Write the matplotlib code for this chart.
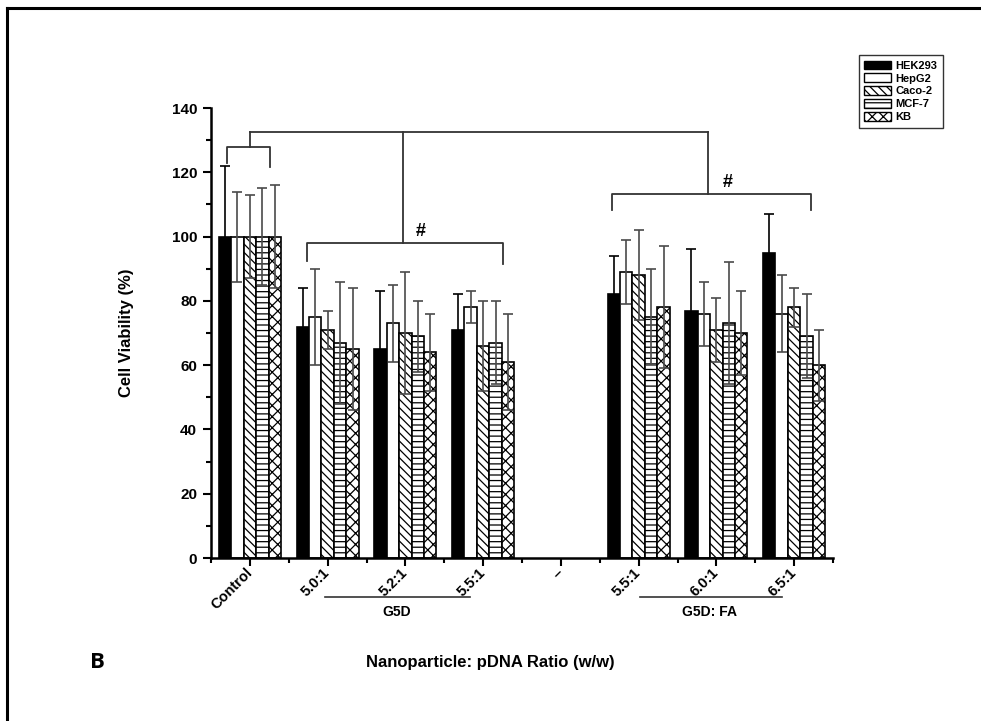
import matplotlib
matplotlib.use('Agg')
import matplotlib.pyplot as plt
import numpy as np
from matplotlib.lines import Line2D
from matplotlib.patches import Patch

plt.rcParams['font.family'] = ['Liberation Sans', 'DejaVu Sans']
plt.rcParams['font.weight'] = 'bold'
plt.rcParams['hatch.linewidth'] = 0.9

# ---------------- data ----------------
categories = ['Control', '5.0:1', '5.2:1', '5.5:1', '–', '5.5:1', '6.0:1', '6.5:1']
cell_lines = ['HEK293', 'HepG2', 'Caco-2', 'MCF-7', 'KB']

hek293 = [100, 72, 65, 71, np.nan, 82, 77, 95]
hepg2 = [100, 75, 73, 78, np.nan, 89, 76, 76]
caco2 = [100, 71, 70, 66, np.nan, 88, 71, 78]
mcf7 = [100, 67, 69, 67, np.nan, 75, 73, 69]
kb = [100, 65, 64, 61, np.nan, 78, 70, 60]

hek293_sd = [22, 12, 18, 11, np.nan, 12, 19, 12]
hepg2_sd = [14, 15, 12, 5, np.nan, 10, 10, 12]
caco2_sd = [13, 6, 19, 14, np.nan, 14, 10, 6]
mcf7_sd = [15, 19, 11, 13, np.nan, 15, 19, 13]
kb_sd = [16, 19, 12, 15, np.nan, 19, 13, 11]

means = [hek293, hepg2, caco2, mcf7, kb]
sds = [hek293_sd, hepg2_sd, caco2_sd, mcf7_sd, kb_sd]

# ---------------- styles ----------------
facecolors = ['black', 'white', 'white', 'white', 'white']
hatches = [None, None, '\\\\\\\\', '---', 'xxx']

fig = plt.figure(figsize=(9.81, 7.21), dpi=100)
ax = fig.add_axes([211/981, 1-558/721, (833-211)/981, (558-108)/721])

bw = 0.16
xc = np.arange(len(categories))
for j in range(5):
    m = np.array(means[j], dtype=float)
    s = np.array(sds[j], dtype=float)
    ok = ~np.isnan(m)
    xs = xc[ok] + (j - 2) * bw
    ax.bar(xs, m[ok], width=bw, color=facecolors[j], edgecolor='black',
           linewidth=1.2, hatch=hatches[j], zorder=2, label=cell_lines[j])
    ax.errorbar(xs, m[ok], yerr=s[ok], fmt='none',
                ecolor='black' if j == 0 else '#4a4a4a',
                elinewidth=1.2, capsize=3.5, capthick=1.2, zorder=3)

ax.set_xlim(-0.5, 7.5)
ax.set_ylim(0, 140)
ax.set_yticks(np.arange(0, 141, 20))
ax.set_yticks(np.arange(0, 141, 10), minor=True)
ax.set_xticks(xc)
ax.set_xticks(np.arange(-0.5, 8, 1), minor=True)
ax.set_xticklabels(categories, rotation=45, ha='right', va='center',
                   rotation_mode='anchor', fontsize=10.5, fontweight='bold')
for lbl in ax.get_yticklabels():
    lbl.set_fontsize(11)
    lbl.set_fontweight('bold')
ax.tick_params(axis='both', which='major', direction='out', length=6, width=1.5, pad=4)
ax.tick_params(axis='both', which='minor', direction='out', length=3.5, width=1.5)
ax.tick_params(axis='x', which='major', pad=3)
for sp in ['top', 'right']:
    ax.spines[sp].set_visible(False)
for sp in ['left', 'bottom']:
    ax.spines[sp].set_linewidth(1.8)

ax.set_ylabel('Cell Viability (%)', fontsize=12, fontweight='bold', labelpad=27)

# ---------------- significance brackets ----------------
bc = '#333333'
blw = 1.3
def seg(xs, ys):
    ax.plot(xs, ys, color=bc, lw=blw, clip_on=False, zorder=4)

top_y = 132.6
seg([0.0, 5.89], [top_y, top_y])
seg([0.0, 0.0], [top_y, 128])
seg([-0.29, -0.29, 0.26, 0.26], [123, 128, 128, 121.7])
seg([1.97, 1.97], [top_y, 98])
seg([0.74, 0.74, 3.26, 3.26], [92.5, 98, 98, 91.5])
seg([5.89, 5.89], [top_y, 113.4])
seg([4.66, 4.66, 7.22, 7.22], [108.3, 113.4, 113.4, 108.3])
ax.text(2.2, 101.5, '#', fontsize=13, fontweight='bold', ha='center', va='center')
ax.text(6.15, 116.7, '#', fontsize=13, fontweight='bold', ha='center', va='center')

# ---------------- group labels below axis ----------------
def fx(px):
    return px / 981
def fy(py):
    return 1 - py / 721

fig.add_artist(Line2D([fx(325), fx(470)], [fy(597), fy(597)], color='#333333', lw=1.2))
fig.add_artist(Line2D([fx(640), fx(782)], [fy(597), fy(597)], color='#333333', lw=1.2))
fig.text(fx(397), fy(612), 'G5D', fontsize=10, fontweight='bold', ha='center', va='center')
fig.text(fx(710), fy(612), 'G5D: FA', fontsize=10, fontweight='bold', ha='center', va='center')
fig.text(fx(490), fy(662), 'Nanoparticle: pDNA Ratio (w/w)', fontsize=12,
         fontweight='bold', ha='center', va='center')
fig.text(fx(97), fy(662), 'B', fontsize=16, fontweight='bold', ha='center', va='center',
         family=['Open Sans', 'DejaVu Sans'])

# ---------------- legend ----------------
handles = [Patch(facecolor=facecolors[j], edgecolor='black', hatch=hatches[j], linewidth=1.0)
           for j in range(5)]
leg = fig.legend(handles, cell_lines, loc='upper right',
                 bbox_to_anchor=(fx(943), fy(55)), frameon=True, fancybox=False,
                 edgecolor='black', prop={'size': 8, 'weight': 'bold'},
                 handlelength=2.4, handleheight=0.8, labelspacing=0.25,
                 handletextpad=0.4, borderpad=0.5, borderaxespad=0)
leg.get_frame().set_linewidth(1.0)

# ---------------- outer frame lines (top & left) ----------------
fig.add_artist(Line2D([fx(7), 1.0], [fy(8), fy(8)], color='black', lw=2.2))
fig.add_artist(Line2D([fx(7), fx(7)], [fy(8), 0.0], color='black', lw=2.2))

fig.savefig('out.png', dpi=100)
